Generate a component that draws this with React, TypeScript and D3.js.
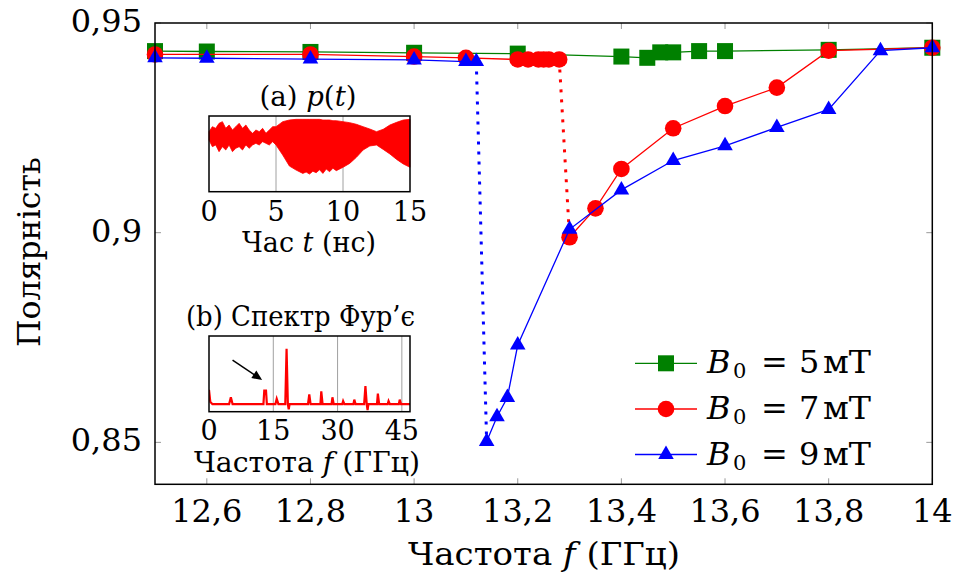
import React from 'react';
import * as d3 from 'd3';

// ---------- main chart data ----------
const xTicks = [12.6, 12.8, 13, 13.2, 13.4, 13.6, 13.8, 14];
const xTickLabels = ['12,6', '12,8', '13', '13,2', '13,4', '13,6', '13,8', '14'];
const yTicks = [0.85, 0.9, 0.95];
const yTickLabels = ['0,85', '0,9', '0,95'];

const freqB5 = [12.5, 12.6, 12.8, 13.0, 13.2, 13.4, 13.45, 13.475, 13.5, 13.55, 13.6, 13.8, 14.0];
const polB5 = [0.9433, 0.9432, 0.9431, 0.9429, 0.9427, 0.942, 0.9417, 0.943, 0.943, 0.9433, 0.9433, 0.9436, 0.9441];

const freqB7 = [12.5, 12.8, 13.0, 13.1, 13.2, 13.22, 13.24, 13.25, 13.26, 13.28, 13.3, 13.35, 13.4, 13.5, 13.6, 13.7, 13.8, 14.0];
const polB7 = [0.9425, 0.9425, 0.942, 0.9417, 0.9413, 0.9413, 0.9413, 0.9413, 0.9413, 0.9413, 0.8989, 0.9058, 0.9152, 0.9249, 0.9302, 0.9346, 0.9434, 0.9441];
const jumpB7 = 9;

const freqB9 = [12.5, 12.6, 12.8, 13.0, 13.1, 13.12, 13.14, 13.16, 13.18, 13.2, 13.3, 13.4, 13.5, 13.6, 13.7, 13.8, 13.9, 14.0];
const polB9 = [0.9417, 0.9416, 0.9414, 0.9412, 0.9408, 0.9408, 0.8502, 0.8561, 0.8607, 0.8732, 0.9008, 0.9102, 0.9172, 0.9207, 0.9251, 0.9294, 0.9434, 0.9441];
const jumpB9 = 5;

const seriesNames = ['5', '7', '9'];

// ---------- inset (a): envelope of p(t), normalised ----------
const timeNs = [0, 0.25, 0.5, 0.75, 1, 1.25, 1.5, 1.75, 2, 2.25, 2.5, 2.75, 3, 3.25, 3.5, 3.75, 4, 4.25, 4.5, 4.75, 5,
  5.5, 6, 6.5, 7, 7.25, 7.5, 7.75, 8, 8.25, 8.5, 8.75, 9, 9.25, 9.5, 10, 10.5, 11, 11.5, 12, 12.5, 13, 13.5, 14, 14.5, 15];
const pUpper = [0.793, 0.859, 0.837, 0.903, 0.925, 0.837, 0.881, 0.815, 0.859, 0.903, 0.837, 0.881, 0.815, 0.771, 0.815, 0.793, 0.837, 0.771, 0.815, 0.859, 0.859,
  0.925, 0.947, 0.956, 0.956, 0.956, 0.956, 0.956, 0.956, 0.956, 0.947, 0.947, 0.947, 0.938, 0.938, 0.925, 0.912, 0.89, 0.859, 0.828, 0.793, 0.824, 0.881, 0.916, 0.947, 0.956];
const pLower = [0.683, 0.595, 0.617, 0.529, 0.595, 0.551, 0.617, 0.529, 0.573, 0.595, 0.551, 0.617, 0.573, 0.617, 0.639, 0.617, 0.661, 0.639, 0.617, 0.661, 0.617,
  0.485, 0.339, 0.286, 0.242, 0.26, 0.233, 0.27, 0.251, 0.29, 0.242, 0.3, 0.264, 0.31, 0.278, 0.322, 0.374, 0.454, 0.551, 0.604, 0.617, 0.559, 0.498, 0.427, 0.366, 0.322];
const timeTicks = [0, 5, 10, 15];

// ---------- inset (b): Fourier spectrum, normalised ----------
const specFreq = [0, 0.3, 0.8, 4.7, 5.1, 5.5, 12.7, 12.9, 13.3, 13.5, 15.5, 15.8, 16.2, 17.8, 18.1, 18.4, 18.6, 18.8,
  23.1, 23.4, 23.7, 26.0, 26.2, 26.5, 28.6, 28.8, 29.1, 31.1, 31.3, 31.6, 33.7, 33.9, 34.2, 36.2, 36.5, 36.8, 37.0, 37.2,
  39.2, 39.4, 39.7, 41.7, 41.9, 42.2, 44.3, 44.5, 44.8, 47];
const specAmp = [0.29, 0.13, 0.1, 0.1, 0.19, 0.1, 0.1, 0.28, 0.28, 0.1, 0.1, 0.17, 0.1, 0.1, 0.83, 0.1, 0.03, 0.1,
  0.1, 0.23, 0.1, 0.1, 0.27, 0.1, 0.1, 0.19, 0.1, 0.1, 0.14, 0.1, 0.1, 0.16, 0.1, 0.1, 0.34, 0.1, 0.02, 0.1,
  0.1, 0.24, 0.1, 0.1, 0.14, 0.1, 0.1, 0.16, 0.1, 0.1];
const specTicks = [0, 15, 30, 45];
const arrowFrom = [5.5, 0.68];
const arrowTo = [12.4, 0.42];

const FONT = "'DejaVu Serif', 'Liberation Serif', serif";
const FS = 32;
const FSI = 27;

const x = d3.scaleLinear().domain([12.5, 14]).range([155, 932.3]);
const y = d3.scaleLinear().domain([0.84, 0.95]).range([484.3, 23]);

const GREEN = '#008000';
const RED = '#ff0000';
const BLUE = '#0000ff';

type Pt = [number, number];

function Marker({ kind, cx, cy, color }: { kind: string; cx: number; cy: number; color: string }) {
  if (kind === 'square') return <rect x={cx - 8} y={cy - 8} width={16} height={16} fill={color} />;
  if (kind === 'circle') return <circle cx={cx} cy={cy} r={8.3} fill={color} />;
  const r = 9;
  const pts = [[cx, cy - r], [cx + r * Math.sin(Math.PI / 3), cy + r / 2], [cx - r * Math.sin(Math.PI / 3), cy + r / 2]];
  return <polygon points={pts.map((p) => p.join(',')).join(' ')} fill={color} />;
}

function Series({ fx, py, jump, color, kind }: { fx: number[]; py: number[]; jump: number; color: string; kind: string }) {
  const pts: Pt[] = fx.map((f, i) => [f, py[i]]);
  const line = d3.line<Pt>().x((d) => x(d[0])).y((d) => y(d[1]));
  const segs: { d: string; dotted: boolean }[] = [];
  if (jump >= 0) {
    segs.push({ d: line(pts.slice(0, jump + 1)) || '', dotted: false });
    segs.push({ d: line(pts.slice(jump, jump + 2)) || '', dotted: true });
    segs.push({ d: line(pts.slice(jump + 1)) || '', dotted: false });
  } else {
    segs.push({ d: line(pts) || '', dotted: false });
  }
  return (
    <g>
      {segs.map((s, i) => (
        <path key={i} d={s.d} fill="none" stroke={color} strokeWidth={s.dotted ? 3 : 1.3}
          strokeDasharray={s.dotted ? '3 7' : undefined} />
      ))}
      {pts.map((p, i) => (
        <Marker key={i} kind={kind} cx={x(p[0])} cy={y(p[1])} color={color} />
      ))}
    </g>
  );
}

function InsetA() {
  const L = 209, R = 410, T = 116, B = 191.7;
  const tx = d3.scaleLinear().domain([0, 15]).range([L, R]);
  const ty = d3.scaleLinear().domain([0, 1]).range([B, T]);
  const area = d3.area<number>().x((_, i) => tx(timeNs[i])).y0((_, i) => ty(pLower[i])).y1((_, i) => ty(pUpper[i]));
  return (
    <g>
      <rect x={L} y={T} width={R - L} height={B - T} fill="white" />
      {timeTicks.slice(1, -1).map((t) => (
        <line key={t} x1={tx(t)} x2={tx(t)} y1={T} y2={B} stroke="#a0a0a0" strokeWidth={1} />
      ))}
      <path d={area(timeNs) || ''} fill={RED} stroke={RED} strokeWidth={0.8} />
      <rect x={L} y={T} width={R - L} height={B - T} fill="none" stroke="black" strokeWidth={1.5} />
      <text x={308} y={106} textAnchor="middle" fontSize={FSI + 1} textLength={97} lengthAdjust="spacingAndGlyphs">
        (a) <tspan fontStyle="italic">p</tspan>(<tspan fontStyle="italic">t</tspan>)
      </text>
      {timeTicks.map((t) => (
        <text key={t} x={tx(t)} y={221} textAnchor="middle" fontSize={FSI}>{t}</text>
      ))}
      <text x={309} y={252} textAnchor="middle" fontSize={FSI} textLength={134} lengthAdjust="spacingAndGlyphs">
        Час <tspan fontStyle="italic">t</tspan> (нс)
      </text>
    </g>
  );
}

function InsetB() {
  const L = 209, R = 410, T = 336, B = 411.7;
  const fx = d3.scaleLinear().domain([0, 46.9]).range([L, R]);
  const fy = d3.scaleLinear().domain([0, 1]).range([B, T]);
  const pts: Pt[] = specFreq.map((f, i) => [f, specAmp[i]]);
  const line = d3.line<Pt>().x((d) => fx(d[0])).y((d) => fy(d[1]));
  const ax1 = fx(arrowFrom[0]), ay1 = fy(arrowFrom[1]);
  const ax2 = fx(arrowTo[0]), ay2 = fy(arrowTo[1]);
  const ang = Math.atan2(ay2 - ay1, ax2 - ax1);
  const hl = 10, hw = 4.5;
  const head = [
    [ax2, ay2],
    [ax2 - hl * Math.cos(ang) + hw * Math.sin(ang), ay2 - hl * Math.sin(ang) - hw * Math.cos(ang)],
    [ax2 - hl * Math.cos(ang) - hw * Math.sin(ang), ay2 - hl * Math.sin(ang) + hw * Math.cos(ang)],
  ];
  return (
    <g>
      <rect x={L} y={T} width={R - L} height={B - T} fill="white" />
      {specTicks.slice(1).map((t) => (
        <line key={t} x1={fx(t)} x2={fx(t)} y1={T} y2={B} stroke="#a0a0a0" strokeWidth={1} />
      ))}
      <defs>
        <clipPath id="clipB"><rect x={L} y={T} width={R - L} height={B - T} /></clipPath>
      </defs>
      <path d={line(pts) || ''} fill="none" stroke={RED} strokeWidth={2.2} clipPath="url(#clipB)" />
      <rect x={L} y={T} width={R - L} height={B - T} fill="none" stroke="black" strokeWidth={1.5} />
      <line x1={ax1} y1={ay1} x2={ax2 - 6 * Math.cos(ang)} y2={ay2 - 6 * Math.sin(ang)} stroke="black" strokeWidth={1.5} />
      <polygon points={head.map((p) => p.join(',')).join(' ')} fill="black" />
      <text x={300.5} y={326} textAnchor="middle" fontSize={FSI + 1} textLength={229} lengthAdjust="spacingAndGlyphs">
        (b) Спектр Фур’є
      </text>
      {specTicks.map((t) => (
        <text key={t} x={fx(t)} y={440} textAnchor="middle" fontSize={FSI}>{t}</text>
      ))}
      <text x={307} y={472} textAnchor="middle" fontSize={FSI} textLength={226} lengthAdjust="spacingAndGlyphs">
        Частота <tspan fontStyle="italic">f</tspan> (ГГц)
      </text>
    </g>
  );
}

function LegendRow({ cy, color, kind, label }: { cy: number; color: string; kind: string; label: string }) {
  const lx = 707;
  return (
    <g>
      <line x1={635} x2={697} y1={cy} y2={cy} stroke={color} strokeWidth={1.3} />
      <Marker kind={kind} cx={666} cy={cy} color={color} />
      <text x={lx} y={cy + 10} fontSize={FS} fontStyle="italic">B</text>
      <text x={lx + 26} y={cy + 15} fontSize={21}>0</text>
      <text x={lx + 54} y={cy + 10} fontSize={FS}>=</text>
      <text x={lx + 92} y={cy + 10} fontSize={FS}>{label}</text>
      <text x={lx + 116} y={cy + 10} fontSize={FS} textLength={48} lengthAdjust="spacingAndGlyphs">мТ</text>
    </g>
  );
}

export default function App() {
  const L = 155, R = 932.3, T = 23, B = 484.3;
  return (
    <svg width={954} height={584} viewBox="0 0 954 584"
      style={{ position: 'absolute', left: 0, top: 0, background: 'white', fontFamily: FONT }}>
      <rect x={0} y={0} width={954} height={584} fill="white" />
      {xTicks.map((t) => (
        <g key={t}>
          <line x1={x(t)} x2={x(t)} y1={B} y2={B - 6} stroke="#999" strokeWidth={1} />
          <line x1={x(t)} x2={x(t)} y1={T} y2={T + 6} stroke="#999" strokeWidth={1} />
        </g>
      ))}
      {yTicks.map((t) => (
        <g key={t}>
          <line x1={L} x2={L + 6} y1={y(t)} y2={y(t)} stroke="#999" strokeWidth={1} />
          <line x1={R} x2={R - 6} y1={y(t)} y2={y(t)} stroke="#999" strokeWidth={1} />
        </g>
      ))}

      <InsetA />
      <InsetB />

      <Series fx={freqB5} py={polB5} jump={-1} color={GREEN} kind="square" />
      <Series fx={freqB7} py={polB7} jump={jumpB7} color={RED} kind="circle" />
      <Series fx={freqB9} py={polB9} jump={jumpB9} color={BLUE} kind="triangle" />

      <rect x={L} y={T} width={R - L} height={B - T} fill="none" stroke="black" strokeWidth={1.5} />

      {xTicks.map((t, i) => (
        <text key={t} x={x(t)} y={522} textAnchor="middle" fontSize={FS}>{xTickLabels[i]}</text>
      ))}
      {yTicks.map((t, i) => (
        <text key={t} x={142} y={y(t) + 9} textAnchor="end" fontSize={FS}>{yTickLabels[i]}</text>
      ))}

      <text x={544} y={565} textAnchor="middle" fontSize={FS} textLength={272} lengthAdjust="spacingAndGlyphs">
        Частота <tspan fontStyle="italic">f</tspan> (ГГц)
      </text>
      <text transform="translate(40,252) rotate(-90)" textAnchor="middle" fontSize={FS} textLength={190} lengthAdjust="spacingAndGlyphs">
        Полярність
      </text>

      <LegendRow cy={363.3} color={GREEN} kind="square" label={seriesNames[0]} />
      <LegendRow cy={409} color={RED} kind="circle" label={seriesNames[1]} />
      <LegendRow cy={454.5} color={BLUE} kind="triangle" label={seriesNames[2]} />
    </svg>
  );
}
